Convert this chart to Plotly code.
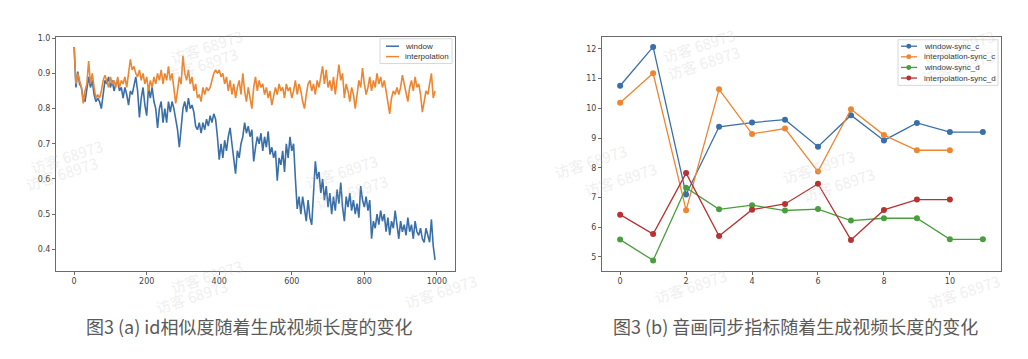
import plotly.graph_objects as go

# ---------------- left chart data (sampled every 5 steps) ----------------
steps = list(range(0, 1000, 5))
window = [
    0.975, 0.86, 0.905, 0.87, 0.86, 0.83, 0.82, 0.85, 0.89, 0.86, 0.88, 0.84, 0.82, 0.83, 0.82, 0.80, 0.84, 0.88, 0.87, 0.89,
    0.86, 0.88, 0.85, 0.87, 0.88, 0.85, 0.86, 0.83, 0.86, 0.84, 0.81, 0.85, 0.84, 0.87, 0.89, 0.85, 0.775, 0.83, 0.86, 0.81,
    0.78, 0.86, 0.83, 0.86, 0.82, 0.80, 0.745, 0.80, 0.82, 0.76,
    0.80, 0.76, 0.82, 0.79, 0.82, 0.80, 0.77, 0.74, 0.69, 0.74,
    0.80, 0.82, 0.79, 0.83, 0.80, 0.81, 0.79, 0.75, 0.74, 0.76,
    0.73, 0.76, 0.74, 0.77, 0.75, 0.78, 0.76, 0.785, 0.77, 0.72,
    0.655, 0.70, 0.66, 0.71, 0.68, 0.72, 0.745, 0.70, 0.66, 0.615,
    0.68, 0.66, 0.70, 0.72, 0.76, 0.73, 0.75, 0.72, 0.74, 0.65,
    0.69, 0.72, 0.70, 0.73, 0.68, 0.72, 0.69, 0.735, 0.67, 0.69,
    0.66, 0.68, 0.595, 0.66, 0.64, 0.68, 0.62, 0.70, 0.66, 0.72,
    0.68, 0.70, 0.60, 0.515, 0.55, 0.50, 0.55, 0.52, 0.48, 0.54,
    0.49, 0.47, 0.56, 0.65, 0.60, 0.62, 0.56, 0.60, 0.54, 0.58,
    0.52, 0.56, 0.50, 0.55, 0.51, 0.57, 0.53, 0.59, 0.52, 0.48,
    0.55, 0.52, 0.56, 0.51, 0.54, 0.50, 0.53, 0.49, 0.58, 0.54,
    0.52, 0.55, 0.51, 0.54, 0.43, 0.48, 0.46, 0.50, 0.47, 0.51,
    0.48, 0.50, 0.45, 0.49, 0.44, 0.48, 0.46, 0.51, 0.47, 0.43,
    0.48, 0.45, 0.47, 0.44, 0.49, 0.45, 0.47, 0.43, 0.48, 0.45,
    0.44, 0.46, 0.43, 0.42, 0.46, 0.44, 0.42, 0.485, 0.41, 0.37,
]
interpolation = [
    0.975, 0.87, 0.90, 0.88, 0.86, 0.815, 0.85, 0.87, 0.935, 0.87, 0.90, 0.86, 0.83, 0.84, 0.83, 0.85, 0.88, 0.895, 0.88, 0.86,
    0.89, 0.87, 0.88, 0.86, 0.89, 0.86, 0.88, 0.87, 0.89, 0.86, 0.90, 0.94, 0.91, 0.92, 0.90, 0.89, 0.91, 0.88, 0.90, 0.87,
    0.89, 0.85, 0.88, 0.86, 0.89, 0.87, 0.90, 0.88, 0.91, 0.87,
    0.90, 0.88, 0.92, 0.88, 0.90, 0.86, 0.815, 0.85, 0.89, 0.87,
    0.95, 0.90, 0.88, 0.91, 0.87, 0.89, 0.85, 0.87, 0.83, 0.84,
    0.82, 0.86, 0.84, 0.86, 0.85, 0.86, 0.88, 0.90, 0.91, 0.90,
    0.91, 0.89, 0.90, 0.87, 0.89, 0.85, 0.88, 0.84, 0.87, 0.83,
    0.86, 0.88, 0.84, 0.90, 0.85, 0.82, 0.86, 0.83, 0.80, 0.86,
    0.89, 0.85, 0.88, 0.86, 0.87, 0.84, 0.86, 0.83, 0.85, 0.81,
    0.84, 0.86, 0.84, 0.87, 0.85, 0.86, 0.83, 0.87, 0.85, 0.86,
    0.83, 0.85, 0.88, 0.84, 0.87, 0.85, 0.82, 0.80, 0.84, 0.87,
    0.88, 0.85, 0.87, 0.84, 0.88, 0.86, 0.89, 0.92, 0.87, 0.91,
    0.86, 0.88, 0.85, 0.89, 0.84, 0.88, 0.925, 0.88, 0.90, 0.83,
    0.87, 0.85, 0.82, 0.86, 0.84, 0.80, 0.85, 0.88, 0.86, 0.915,
    0.87, 0.84, 0.86, 0.89, 0.85, 0.88, 0.86, 0.90, 0.87, 0.89,
    0.86, 0.88, 0.85, 0.82, 0.785, 0.83, 0.85, 0.84, 0.86, 0.84,
    0.86, 0.895, 0.87, 0.85, 0.82, 0.86, 0.88, 0.85, 0.89, 0.86,
    0.87, 0.84, 0.79, 0.82, 0.85, 0.84, 0.87, 0.90, 0.83, 0.85,
]

# ---------------- right chart data ----------------
idx_c = list(range(12))
idx_i = list(range(11))
window_sync_c = [10.76, 12.07, 7.10, 9.38, 9.52, 9.62, 8.71, 9.77, 8.92, 9.51, 9.20, 9.20]
interp_sync_c = [10.19, 11.18, 6.57, 10.64, 9.14, 9.32, 7.87, 9.97, 9.10, 8.59, 8.59]
window_sync_d = [5.58, 4.88, 7.33, 6.60, 6.74, 6.56, 6.61, 6.22, 6.30, 6.30, 5.59, 5.59]
interp_sync_d = [6.42, 5.77, 7.82, 5.70, 6.59, 6.78, 7.46, 5.57, 6.58, 6.93, 6.93]

left_xticks = [0, 200, 400, 600, 800, 1000]
left_yticks = [0.4, 0.5, 0.6, 0.7, 0.8, 0.9, 1.0]
right_xticks = [0, 2, 4, 6, 8, 10]
right_yticks = [5, 6, 7, 8, 9, 10, 11, 12]

left_names = ["window", "interpolation"]
right_names = ["window-sync_c", "interpolation-sync_c", "window-sync_d", "interpolation-sync_d"]
captions = ["图3 (a) id相似度随着生成视频长度的变化", "图3 (b) 音画同步指标随着生成视频长度的变化"]
watermark = "访客 68973"

BLUE = "#3a6fa8"
ORANGE = "#ec8632"
GREEN = "#4a9e3f"
RED = "#b83232"

W, H = 1028, 359
OFF = 8  # page body margin offset


def px(x):
    return (x - OFF) / W


def py(y):
    return 1 - (y - OFF) / H


fig = go.Figure()

fig.add_trace(go.Scatter(x=steps, y=window, mode="lines", name=left_names[0],
                         line=dict(color=BLUE, width=1.6), xaxis="x", yaxis="y"))
fig.add_trace(go.Scatter(x=steps, y=interpolation, mode="lines", name=left_names[1],
                         line=dict(color=ORANGE, width=1.6), xaxis="x", yaxis="y"))

right_series = [
    (right_names[0], idx_c, window_sync_c, BLUE),
    (right_names[1], idx_i, interp_sync_c, ORANGE),
    (right_names[2], idx_c, window_sync_d, GREEN),
    (right_names[3], idx_i, interp_sync_d, RED),
]
for name, xs, ys, col in right_series:
    fig.add_trace(go.Scatter(x=xs, y=ys, mode="lines+markers", name=name,
                             line=dict(color=col, width=1.3),
                             marker=dict(color=col, size=6),
                             xaxis="x2", yaxis="y2"))

axis_common = dict(showgrid=False, zeroline=False, showline=True, mirror=True,
                   linecolor="#6b6b6b", linewidth=1, ticks="outside", ticklen=3,
                   tickcolor="#6b6b6b", tickfont=dict(family="DejaVu Sans", size=8, color="#444"))

fig.update_layout(
    width=W, height=H,
    margin=dict(l=0, r=0, t=0, b=0),
    paper_bgcolor="white", plot_bgcolor="white",
    showlegend=False,
    xaxis=dict(domain=[px(56), px(455)], range=[-50, 1050], tickvals=left_xticks,
               anchor="y", **axis_common),
    yaxis=dict(domain=[py(270), py(34)], range=[0.339, 1.004], tickvals=left_yticks,
               tickformat=".1f", anchor="x", **axis_common),
    xaxis2=dict(domain=[px(602), px(1001)], range=[-0.55, 11.55], tickvals=right_xticks,
                anchor="y2", **axis_common),
    yaxis2=dict(domain=[py(270), py(34)], range=[4.53, 12.41], tickvals=right_yticks,
                anchor="x2", **axis_common),
)

shapes = []
annotations = []
legend_font = dict(family="Liberation Sans", size=8, color="#333")

# left legend (drawn manually for matplotlib-like compact spacing)
shapes.append(dict(type="rect", xref="paper", yref="paper", x0=px(380), x1=px(452), y0=py(61), y1=py(36),
                   line=dict(color="#d8d8d8", width=1), fillcolor="rgba(255,255,255,0.85)", layer="above"))
for i, (name, col) in enumerate(zip(left_names, [BLUE, ORANGE])):
    yy = 43.5 + i * 10.5
    shapes.append(dict(type="line", xref="paper", yref="paper", x0=px(386), x1=px(399), y0=py(yy), y1=py(yy),
                       line=dict(color=col, width=1.5), layer="above"))
    annotations.append(dict(text=name, x=px(402.5), y=py(yy), xref="paper", yref="paper", showarrow=False,
                            xanchor="left", yanchor="middle", font=legend_font))

# right legend
shapes.append(dict(type="rect", xref="paper", yref="paper", x0=px(898), x1=px(998), y0=py(83), y1=py(37),
                   line=dict(color="#d8d8d8", width=1), fillcolor="rgba(255,255,255,0.85)", layer="above"))
for i, (name, _, _, col) in enumerate(right_series):
    yy = 43.5 + i * 10.7
    shapes.append(dict(type="line", xref="paper", yref="paper", x0=px(901), x1=px(917), y0=py(yy), y1=py(yy),
                       line=dict(color=col, width=1.3), layer="above"))
    shapes.append(dict(type="circle", xref="paper", yref="paper", x0=px(906.3), x1=px(911.3),
                       y0=py(yy + 2.5), y1=py(yy - 2.5), line=dict(color=col, width=0), fillcolor=col,
                       layer="above"))
    annotations.append(dict(text=name, x=px(921.5), y=py(yy), xref="paper", yref="paper", showarrow=False,
                            xanchor="left", yanchor="middle", font=legend_font))

annotations += [
    dict(text=captions[0], x=px(249), y=py(326), xref="paper", yref="paper",
         showarrow=False, xanchor="center", yanchor="middle",
         font=dict(family="Noto Sans CJK SC", size=18, color="#5a5a5a")),
    dict(text=captions[1], x=px(795), y=py(326), xref="paper", yref="paper",
         showarrow=False, xanchor="center", yanchor="middle",
         font=dict(family="Noto Sans CJK SC", size=18, color="#5a5a5a")),
]
wm_pos = [(165, 20), (160, 38), (740, 18), (745, 36), (1000, 20), (1000, 40),
          (25, 155), (20, 172), (300, 170), (310, 190), (590, 160), (620, 178),
          (860, 165), (880, 183), (165, 300), (150, 320), (440, 315), (690, 310), (1005, 315)]
for (wx, wy) in wm_pos:
    annotations.append(dict(text=watermark, x=px(wx), y=py(wy), xref="paper", yref="paper",
                            showarrow=False, textangle=-18,
                            font=dict(family="Noto Sans CJK SC", size=15, color="rgba(190,190,190,0.25)")))
fig.update_layout(shapes=shapes, annotations=annotations)

fig.write_html("out.html")
